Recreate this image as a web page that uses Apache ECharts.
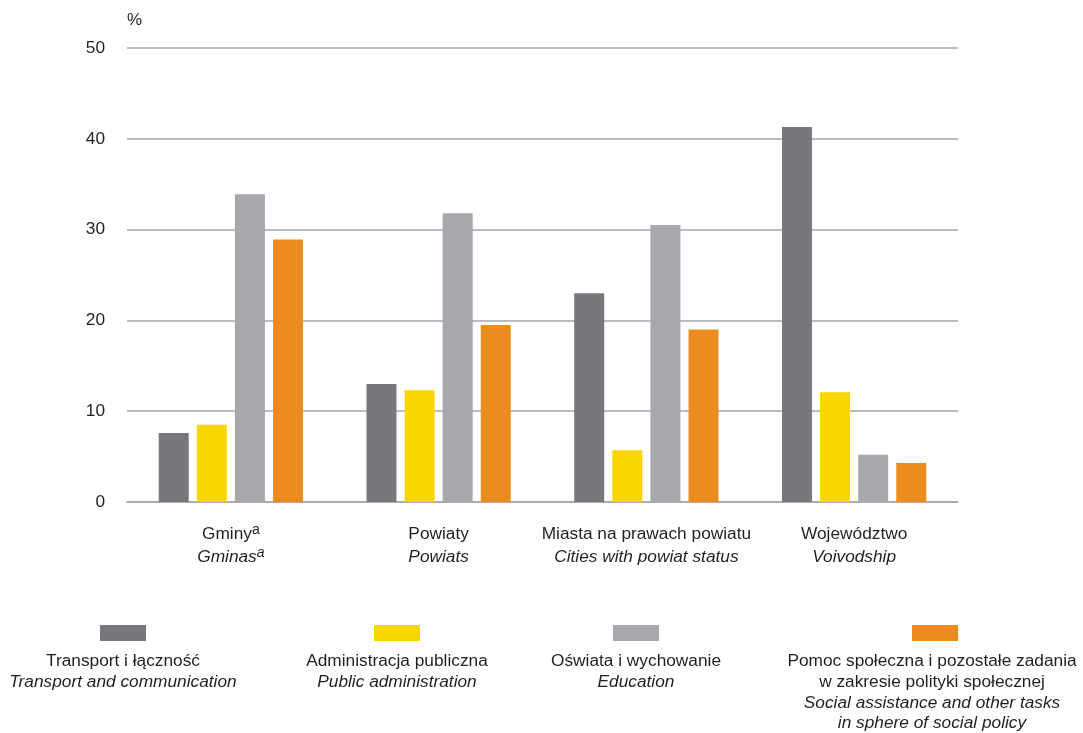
<!DOCTYPE html>
<html><head><meta charset="utf-8">
<script src="https://cdn.jsdelivr.net/npm/echarts@6/dist/echarts.min.js"></script>
<style>html,body{margin:0;padding:0;background:#fff}#c{width:1083px;height:733px}</style>
</head><body><div id="c"></div>
<script>
const categories = ['Gminy', 'Powiaty', 'Miasta na prawach powiatu', 'Województwo'];
const categoriesEn = ['Gminas', 'Powiats', 'Cities with powiat status', 'Voivodship'];
const categoryNote = ['a', '', '', ''];
const seriesNames = [
  ['Transport i łączność', 'Transport and communication'],
  ['Administracja publiczna', 'Public administration'],
  ['Oświata i wychowanie', 'Education'],
  ['Pomoc społeczna i pozostałe zadania\nw zakresie polityki społecznej', 'Social assistance and other tasks\nin sphere of social policy']
];
const transport = [7.6, 13.0, 23.0, 41.3];
const administration = [8.5, 12.3, 5.7, 12.1];
const education = [33.9, 31.8, 30.5, 5.2];
const social = [28.9, 19.5, 19.0, 4.3];
const yTicks = [0, 10, 20, 30, 40, 50];
const colors = ['#77787b', '#f9d600', '#a7a8ab', '#eb8c1e'];

const FONT = '"Liberation Sans", Arial, sans-serif';
const TXT = '#231f20';
const FS = 17.3;
const chart = echarts.init(document.getElementById('c'));
const allData = [transport, administration, education, social];

const legendX = [123, 397, 636, 935];
const legendTextX = [123, 397, 636, 932];
const graphic = [{type:'text', left:127, top:12, style:{text:'%', font:'17px ' + FONT, fill:TXT}}];
seriesNames.forEach((n, i) => {
  graphic.push({type:'rect', shape:{x:legendX[i]-23, y:625, width:46, height:16}, style:{fill:colors[i]}});
  graphic.push({type:'text', x:legendTextX[i], y:651, style:{
    text: '{n|' + n[0].split('\n').join('}\n{n|') + '}\n{i|' + n[1].split('\n').join('}\n{i|') + '}',
    align:'center', verticalAlign:'top',
    rich:{n:{font:FS + 'px ' + FONT, fill:TXT, lineHeight:20.7}, i:{font:'italic ' + FS + 'px ' + FONT, fill:TXT, lineHeight:20.7}}
  }});
});

chart.setOption({
  animation:false,
  grid:{left:127, right:125, top:48, bottom:231, containLabel:false},
  xAxis:{type:'category', data:categories,
    axisLine:{lineStyle:{color:'#a6a6a6', width:1.5}}, axisTick:{show:false},
    axisLabel:{margin:21, interval:0,
      formatter:(v, idx) => {
        const note = categoryNote[idx];
        return '{n|' + v + '}' + (note ? '{s|' + note + '}' : '') + '\n{i|' + categoriesEn[idx] + '}' + (note ? '{si|' + note + '}' : '');
      },
      rich:{
        n:{fontFamily:FONT, fontSize:FS, color:TXT, lineHeight:23},
        i:{fontFamily:FONT, fontSize:FS, fontStyle:'italic', color:TXT, lineHeight:23},
        s:{fontFamily:FONT, fontSize:14, color:TXT, verticalAlign:'top', lineHeight:23, padding:[0,0,12,0]},
        si:{fontFamily:FONT, fontSize:14, fontStyle:'italic', color:TXT, verticalAlign:'top', lineHeight:23, padding:[0,0,12,0]}
      }
    }
  },
  yAxis:{type:'value', min:0, max:50, interval:10,
    axisLine:{show:false}, axisTick:{show:false},
    splitLine:{lineStyle:{color:'#a6a6a6', width:1.5}},
    axisLabel:{margin:22, fontFamily:FONT, fontSize:FS, color:TXT,
      formatter:v => yTicks.includes(v) ? String(v) : ''}
  },
  series: allData.map((d, i) => ({
    type:'bar', name:seriesNames[i][0], data:d, barWidth:30, barGap:'27%',
    itemStyle:{color:colors[i]}
  })),
  graphic: graphic
});
</script></body></html>
